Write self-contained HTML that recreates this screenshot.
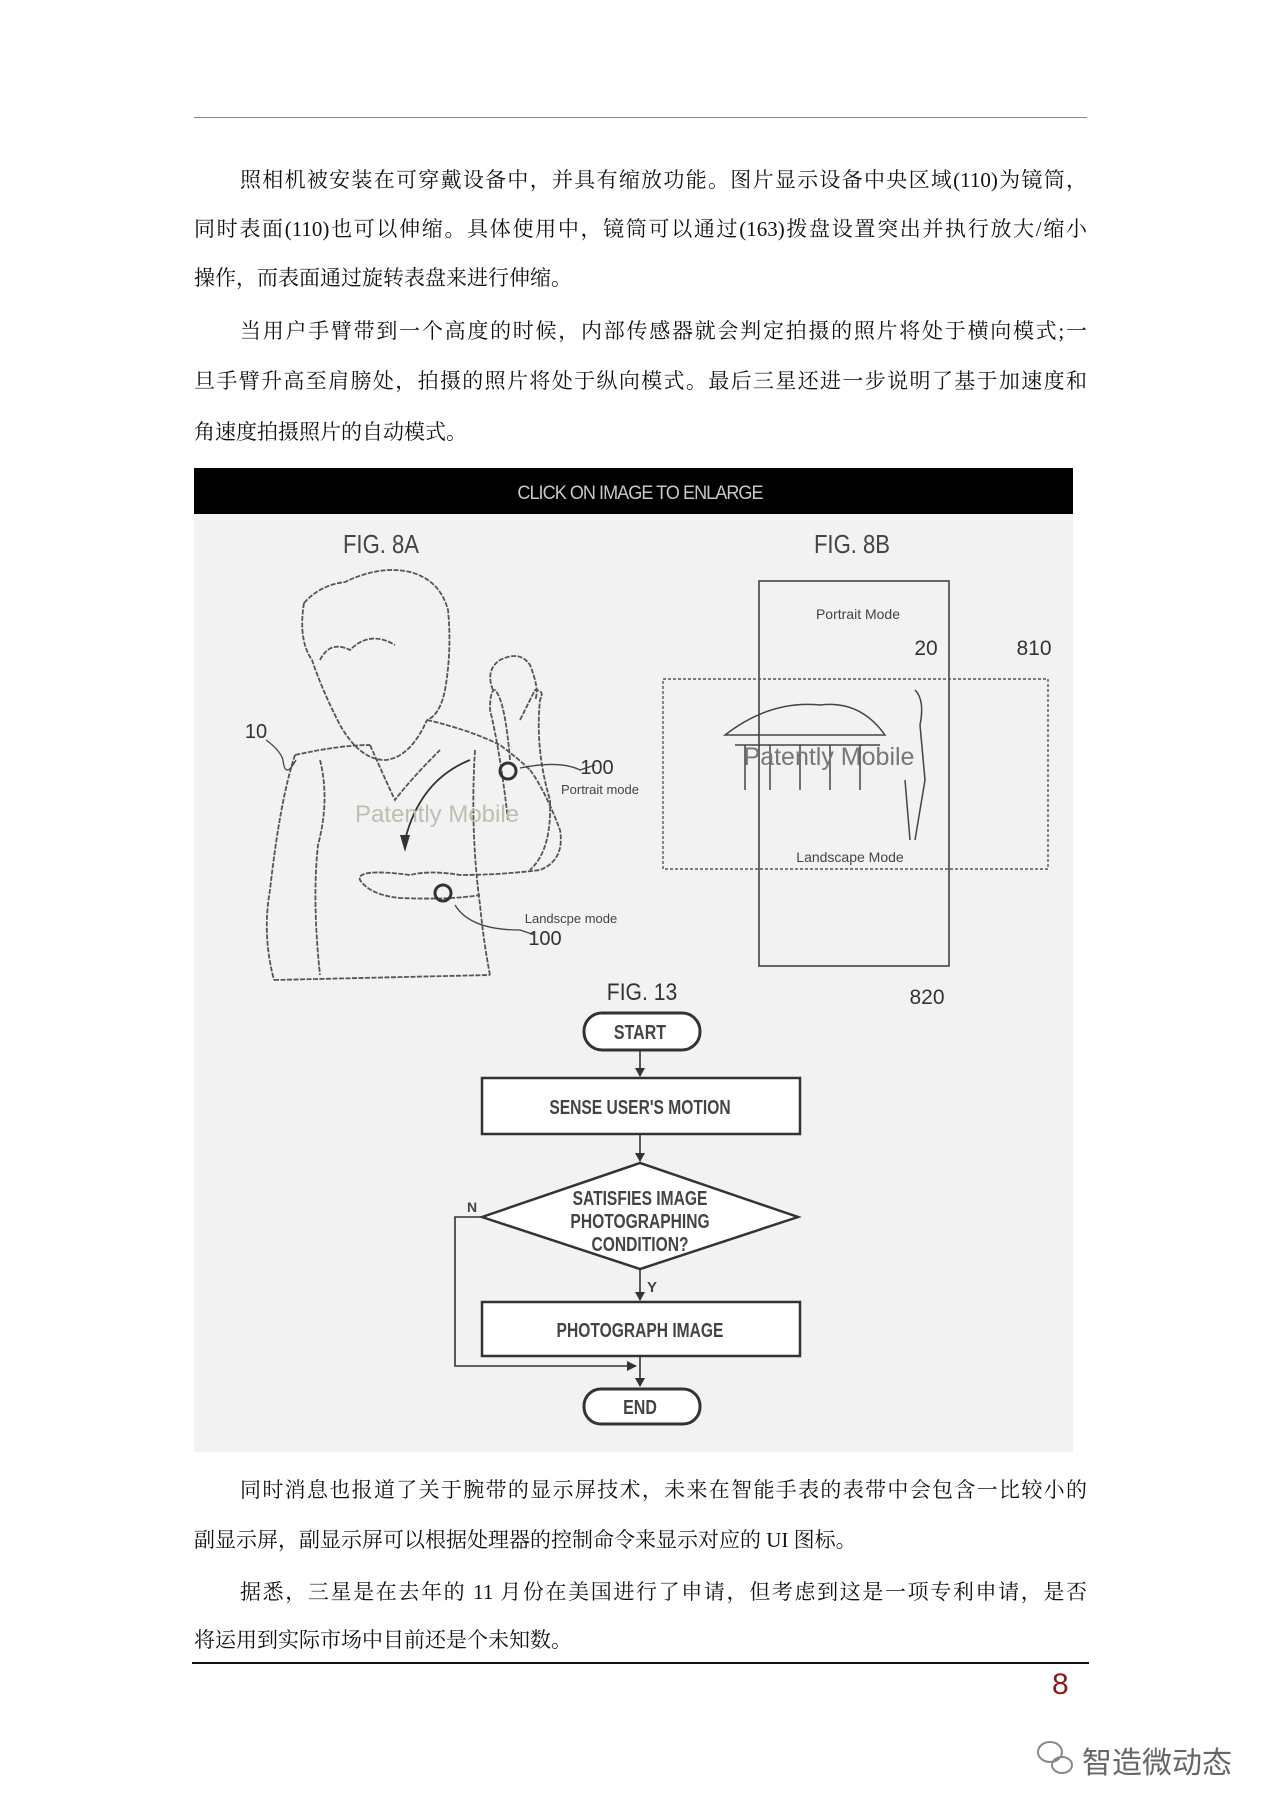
<!DOCTYPE html>
<html><head><meta charset="utf-8"><style>
body{margin:0;background:#fff;width:1280px;height:1809px;position:relative;overflow:hidden;font-family:"Liberation Serif","Noto Serif CJK SC","Noto Sans CJK SC",serif;}
.l{position:absolute;left:194px;width:893px;font-size:21px;line-height:30px;color:#111;white-space:nowrap;}
.j{text-align:justify;text-align-last:justify;}
.rule{position:absolute;height:0;}
svg{position:absolute;left:0;top:0;}
</style></head><body>
<div class="rule" style="left:194px;top:117px;width:893px;border-top:1.5px solid #888"></div>
<div class="l j" style="top:165px;padding-left:46px;width:847px">照相机被安装在可穿戴设备中，并具有缩放功能。图片显示设备中央区域(110)为镜筒，</div>
<div class="l j" style="top:214px">同时表面(110)也可以伸缩。具体使用中，镜筒可以通过(163)拨盘设置突出并执行放大/缩小</div>
<div class="l" style="top:263px">操作，而表面通过旋转表盘来进行伸缩。</div>
<div class="l j" style="top:316px;padding-left:46px;width:847px">当用户手臂带到一个高度的时候，内部传感器就会判定拍摄的照片将处于横向模式;一</div>
<div class="l j" style="top:366px">旦手臂升高至肩膀处，拍摄的照片将处于纵向模式。最后三星还进一步说明了基于加速度和</div>
<div class="l" style="top:417px">角速度拍摄照片的自动模式。</div>

<div class="l j" style="top:1475px;padding-left:46px;width:847px">同时消息也报道了关于腕带的显示屏技术，未来在智能手表的表带中会包含一比较小的</div>
<div class="l" style="top:1525px">副显示屏，副显示屏可以根据处理器的控制命令来显示对应的 UI 图标。</div>
<div class="l j" style="top:1577px;padding-left:46px;width:847px">据悉，三星是在去年的 11 月份在美国进行了申请，但考虑到这是一项专利申请，是否</div>
<div class="l" style="top:1625px">将运用到实际市场中目前还是个未知数。</div>
<div class="rule" style="left:192px;top:1662px;width:897px;border-top:2px solid #111"></div>
<div style="position:absolute;left:1052px;top:1668px;font-family:'Liberation Sans',sans-serif;font-size:30px;color:#8b1a1a">8</div>
<div style="position:absolute;left:1082px;top:1738px;font-family:'Liberation Sans','Noto Sans CJK SC',sans-serif;font-size:30px;color:#666">智造微动态</div>

<svg width="1280" height="1809" viewBox="0 0 1280 1809" font-family="Liberation Sans, sans-serif">
<rect x="194" y="468" width="879" height="984" fill="#f2f2f2"/>
<rect x="194" y="468" width="879" height="46" fill="#000"/>
<text x="640" y="499" text-anchor="middle" fill="#c8c8c8" font-size="19" letter-spacing="-1" transform="translate(640 499) scale(0.95 1) translate(-640 -499)">CLICK ON IMAGE TO ENLARGE</text>
<text x="381" y="553" text-anchor="middle" fill="#444" font-size="26" transform="translate(381 553) scale(0.85 1) translate(-381 -553)">FIG. 8A</text>
<text x="852" y="553" text-anchor="middle" fill="#444" font-size="26" transform="translate(852 553) scale(0.85 1) translate(-852 -553)">FIG. 8B</text>
<g fill="none" stroke="#555" stroke-width="1.8" stroke-dasharray="5 1.5">
<path d="M304 603 Q320 585 345 582 Q380 565 410 572 Q440 580 448 610 Q452 650 445 690 Q440 715 427 720"/>
<path d="M304 603 Q298 640 312 660 Q322 690 340 725 Q360 760 385 760 Q410 758 427 720"/>
<path d="M320 660 Q330 640 350 650 Q370 630 395 645"/>
<path d="M295 755 Q280 800 270 890 Q262 935 274 980"/>
<path d="M295 755 Q340 745 370 745"/>
<path d="M427 720 Q470 730 500 745 Q520 760 530 770"/>
<path d="M320 760 Q330 800 318 845 Q312 900 320 975"/>
<path d="M370 745 Q390 790 395 800 Q410 780 440 750"/>
<path d="M475 750 Q470 830 480 905 Q484 945 490 975"/>
<path d="M530 770 Q545 790 560 830 Q565 860 540 870 Q500 875 460 875 Q430 870 410 875 Q356 868 360 880 Q370 895 400 898 Q450 900 480 895"/>
<path d="M510 760 Q505 700 495 690 Q490 690 490 710 Q500 750 508 820"/>
<path d="M520 720 Q530 700 535 690 Q545 690 540 700 Q535 750 550 800 Q552 850 530 870"/>
<path d="M493 690 Q485 670 500 660 Q520 650 530 665 Q540 690 535 700"/>
<path d="M274 980 L490 975"/>
</g>
<path d="M470 760 Q420 780 405 840" fill="none" stroke="#333" stroke-width="1.8"/>
<path d="M400 835 L405 852 L410 835 Z" fill="#333"/>
<circle cx="508" cy="771" r="8" fill="none" stroke="#333" stroke-width="3"/>
<circle cx="443" cy="893" r="8" fill="none" stroke="#333" stroke-width="3"/>
<path d="M266 740 Q280 750 283 760 Q285 780 296 760" fill="none" stroke="#444" stroke-width="1.3"/>
<path d="M520 768 Q560 760 580 770 L595 765" fill="none" stroke="#444" stroke-width="1.3"/>
<path d="M455 905 Q470 930 520 930 L535 935" fill="none" stroke="#444" stroke-width="1.3"/>
<text x="256" y="738" text-anchor="middle" fill="#333" font-size="20">10</text>
<text x="597" y="774" text-anchor="middle" fill="#333" font-size="20">100</text>
<text x="600" y="794" text-anchor="middle" fill="#444" font-size="13">Portrait mode</text>
<text x="437" y="822" text-anchor="middle" fill="#bcc0b0" font-size="24">Patently Mobile</text>
<text x="571" y="923" text-anchor="middle" fill="#444" font-size="13">Landscpe mode</text>
<text x="545" y="945" text-anchor="middle" fill="#333" font-size="20">100</text>
<rect x="759" y="581" width="190" height="385" fill="none" stroke="#444" stroke-width="1.6"/>
<rect x="663" y="679" width="385" height="190" fill="none" stroke="#555" stroke-width="1.4" stroke-dasharray="3 2"/>
<text x="858" y="619" text-anchor="middle" fill="#444" font-size="14">Portrait Mode</text>
<text x="926" y="655" text-anchor="middle" fill="#333" font-size="21">20</text>
<text x="1034" y="655" text-anchor="middle" fill="#333" font-size="21">810</text>
<g fill="none" stroke="#444" stroke-width="1.5">
<path d="M725 735 Q770 700 820 705 Q860 700 885 735 Z"/>
<path d="M735 745 L880 745 M745 745 L745 790 M770 745 L770 790 M800 745 L800 790 M830 745 L830 790 M860 745 L860 790"/>
<path d="M915 690 Q925 700 920 725 L925 780 L915 840 M905 780 L910 840"/>
</g>
<text x="829" y="765" text-anchor="middle" fill="#777" font-size="25">Patently Mobile</text>
<text x="850" y="862" text-anchor="middle" fill="#444" font-size="14">Landscape Mode</text>
<text x="927" y="1004" text-anchor="middle" fill="#333" font-size="21">820</text>
<text x="642" y="1000" text-anchor="middle" fill="#333" font-size="24" transform="translate(642 1000) scale(0.88 1) translate(-642 -1000)">FIG. 13</text>
<g fill="#fff" stroke="#333" stroke-width="2">
<rect x="584" y="1013" width="116" height="37" rx="18" stroke-width="3"/>
<rect x="482" y="1078" width="318" height="56" stroke-width="2.5"/>
<path d="M482 1217 L640 1163 L798 1217 L640 1269 Z" stroke-width="2.5"/>
<rect x="482" y="1302" width="318" height="54" stroke-width="2.5"/>
<rect x="584" y="1389" width="116" height="35" rx="17" stroke-width="3"/>
</g>
<g stroke="#333" stroke-width="1.6" fill="none">
<path d="M640 1050 L640 1076 M640 1134 L640 1161 M640 1269 L640 1300 M640 1356 L640 1386 M482 1217 L455 1217 L455 1366 L636 1366"/>
</g>
<g fill="#333"><path d="M635 1068 L640 1077 L645 1068Z M635 1153 L640 1162 L645 1153Z M635 1292 L640 1301 L645 1292Z M635 1378 L640 1387 L645 1378Z M627 1361 L637 1366 L627 1371Z"/></g>
<g fill="#444" font-size="20" font-weight="bold" text-anchor="middle">
<text x="640" y="1114" transform="translate(640 1114) scale(0.78 1) translate(-640 -1114)">SENSE USER'S MOTION</text>
<text x="640" y="1205" transform="translate(640 1205) scale(0.78 1) translate(-640 -1205)">SATISFIES IMAGE</text>
<text x="640" y="1228" transform="translate(640 1228) scale(0.78 1) translate(-640 -1228)">PHOTOGRAPHING</text>
<text x="640" y="1251" transform="translate(640 1251) scale(0.78 1) translate(-640 -1251)">CONDITION?</text>
<text x="640" y="1337" transform="translate(640 1337) scale(0.78 1) translate(-640 -1337)">PHOTOGRAPH IMAGE</text>
<text x="640" y="1039" transform="translate(640 1039) scale(0.8 1) translate(-640 -1039)">START</text>
<text x="640" y="1414" transform="translate(640 1414) scale(0.8 1) translate(-640 -1414)">END</text>
<text x="472" y="1212" font-size="14">N</text>
<text x="652" y="1292" font-size="15">Y</text>
</g>
<g fill="none" stroke="#888" stroke-width="2"><ellipse cx="1050" cy="1752" rx="12" ry="10"/><ellipse cx="1062" cy="1765" rx="10" ry="8"/></g>
</svg>
</body></html>
